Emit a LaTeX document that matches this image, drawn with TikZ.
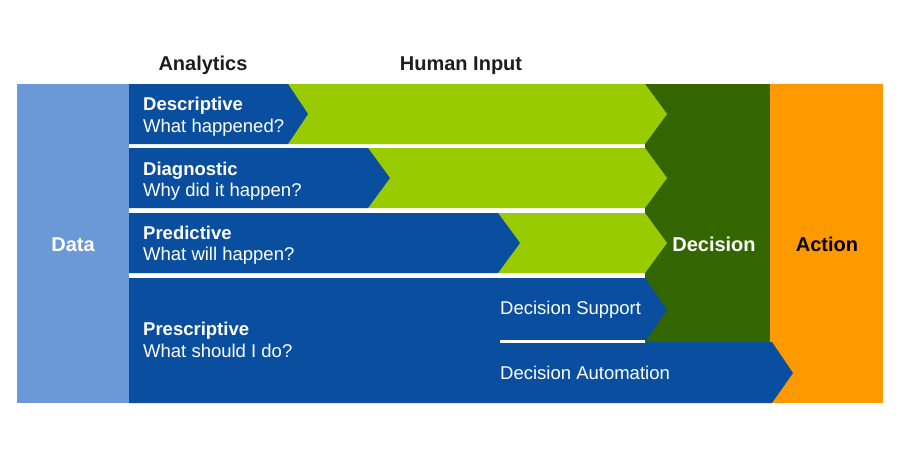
\documentclass[tikz,border=0pt]{standalone}
\usepackage{fontspec}
\setmainfont{Liberation Sans}
\definecolor{dblue}{HTML}{0A4F9F}
\definecolor{lblue}{HTML}{6B98D6}
\definecolor{lgreen}{HTML}{99CC00}
\definecolor{dgreen}{HTML}{336600}
\definecolor{orng}{HTML}{FF9900}
\definecolor{head}{HTML}{1E1E1E}
\begin{document}
\begin{tikzpicture}[x=1pt,y=-1pt,
  headtxt/.style={font=\fontsize{20}{24}\selectfont\bfseries, text=head, anchor=base, inner sep=0},
  ttl/.style={font=\fontsize{18.5}{22}\selectfont\bfseries, text=white, anchor=base west, inner sep=0},
  sub/.style={font=\fontsize{18.5}{22}\selectfont, text=white, anchor=base west, inner sep=0},
  big/.style={font=\fontsize{20}{24}\selectfont\bfseries, anchor=base, inner sep=0}]
\useasboundingbox[fill=white] (0,0) rectangle (900,450);
% background blocks
\fill[lblue] (17,84) rectangle (129,403);
\fill[dgreen] (645,84) rectangle (770,343);
\fill[orng] (770,84) rectangle (883,403);
% row 1
\fill[lgreen] (288,84) -- (645,84) -- (667,114) -- (645,144) -- (288,144) -- cycle;
\fill[dblue] (129,84) -- (288,84) -- (308,114) -- (288,144) -- (129,144) -- cycle;
% row 2
\fill[lgreen] (368,148) -- (645,148) -- (667,178) -- (645,208) -- (368,208) -- cycle;
\fill[dblue] (129,148) -- (368,148) -- (390,178) -- (368,208) -- (129,208) -- cycle;
% row 3
\fill[lgreen] (498,213) -- (645,213) -- (667,243) -- (645,273) -- (498,273) -- cycle;
\fill[dblue] (129,213) -- (498,213) -- (520,243) -- (498,273) -- (129,273) -- cycle;
% row 4
\fill[dblue] (129,278) -- (645,278) -- (667,310) -- (645,342) -- (772,342) -- (793,373) -- (772,403) -- (129,403) -- cycle;
\draw[white, line width=3pt] (500,341) -- (645,341);
% headings
\node[headtxt] (analytics) at (203,70) {Analytics};
\node[headtxt] (human) at (461,70) {Human Input};
% texts
\node[big, text=white] (data) at (73,251) {Data};
\node[big, text=white] (decision) at (714,251) {Decision};
\node[big, text=black] (action) at (827,251) {Action};
\node[ttl] (desc) at (143,110) {Descriptive};
\node[sub] (descq) at (143,132) {What happened?};
\node[ttl] (diag) at (143,175) {Diagnostic};
\node[sub] (diagq) at (143,196) {Why did it happen?};
\node[ttl] (pred) at (143,239) {Predictive};
\node[sub] (predq) at (143,260) {What will happen?};
\node[ttl] (presc) at (143,335) {Prescriptive};
\node[sub] (prescq) at (143,357) {What should I do?};
\node[sub] (dsup) at (500,314) {Decision Support};
\node[sub] (daut) at (500,379) {Decision Automation};
\end{tikzpicture}
\end{document}
